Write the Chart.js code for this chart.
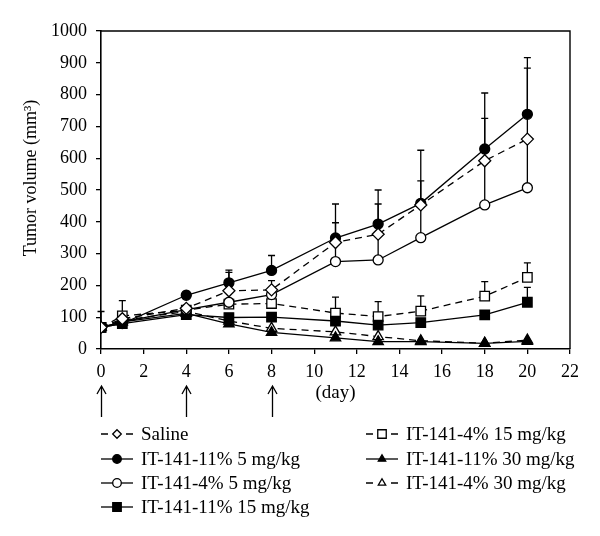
<!DOCTYPE html>
<html>
<head>
<meta charset="utf-8">
<style>
  html, body { margin: 0; padding: 0; background: #fff; }
  #wrap { width: 600px; height: 536px; }
</style>
<script src="https://cdn.jsdelivr.net/npm/chart.js@4.4.1/dist/chart.umd.min.js"></script>
</head>
<body>
<div id="wrap"><canvas id="tumorChart" width="600" height="536"></canvas></div>
<script>
// days of measurement
const days = [0, 1, 4, 6, 8, 11, 13, 15, 18, 20];
// injection days (arrows under the axis)
const doseDays = [0, 4, 8];

const labels = [
    'Saline',
    'IT-141-11% 5 mg/kg',
    'IT-141-4% 5 mg/kg',
    'IT-141-11% 15 mg/kg',
    'IT-141-4% 15 mg/kg',
    'IT-141-11% 30 mg/kg',
    'IT-141-4% 30 mg/kg'
];

// mean tumor volume (mm3)
const saline   = [68, 95, 128, 183, 186, 335, 361, 453, 592, 660];
const it11_5   = [68, 80, 169, 208, 247, 349, 393, 458, 629, 738];
const it4_5    = [68, 85, 124, 147, 171, 275, 280, 350, 453, 507];
const it11_15  = [68, 80, 108, 99, 100, 88, 75, 83, 107, 147];
const it4_15   = [68, 104, 122, 141, 143, 113, 102, 119, 166, 225];
const it11_30  = [68, 85, 112, 79, 52, 35, 23, 23, 18, 24];
const it4_30   = [68, 90, 118, 88, 65, 54, 39, 26, 18, 28];

// upper error (SD), null = no bar
const salineErr  = [null, null, null, 58, 29, 62, 95, 76, 133, 223];
const it11_5Err  = [null, null, 12, 40, 47, 107, 107, 167, 176, 178];
const it4_5Err   = [null, null, null, null, null, 60, 81, 103, 139, 153];
const it11_15Err = [null, null, null, null, null, null, null, null, null, 47];
const it4_15Err  = [50, 48, null, null, null, 50, 47, 48, 46, 46];
const it11_30Err = [null, null, null, null, null, null, null, null, null, null];
const it4_30Err  = [null, null, null, null, null, null, null, null, null, null];

const serif = '"Liberation Serif", "Times New Roman", serif';

const makeSet = (label, values, err, style, filled, dashed, radius) => ({
    label: label,
    data: days.map((d, i) => ({ x: d, y: values[i] })),
    errUp: err,
    borderColor: '#000',
    borderWidth: 1.3,
    borderDash: dashed ? [7, 5] : [],
    pointStyle: style,
    pointRadius: radius,
    pointHoverRadius: radius,
    pointBorderColor: '#000',
    pointBorderWidth: 1.3,
    pointBackgroundColor: filled ? '#000' : '#fff',
    fill: false,
    tension: 0
});

const datasets = [
    makeSet(labels[0], saline, salineErr, 'rectRot', false, true, 6),
    makeSet(labels[1], it11_5, it11_5Err, 'circle', true, false, 5),
    makeSet(labels[2], it4_5, it4_5Err, 'circle', false, false, 5),
    makeSet(labels[3], it11_15, it11_15Err, 'rect', true, false, 6.7),
    makeSet(labels[4], it4_15, it4_15Err, 'rect', false, true, 6.7),
    makeSet(labels[5], it11_30, it11_30Err, 'triangle', true, false, 6),
    makeSet(labels[6], it4_30, it4_30Err, 'triangle', false, true, 6)
];

// small marker for the legend
function legendMarker(ctx, style, x, y, r, filled) {
    ctx.beginPath();
    if (style === 'circle') {
        ctx.arc(x, y, r, 0, Math.PI * 2);
    } else if (style === 'rect') {
        const s = r * Math.SQRT1_2;
        ctx.rect(x - s, y - s, 2 * s, 2 * s);
    } else if (style === 'rectRot') {
        ctx.moveTo(x - r, y); ctx.lineTo(x, y - r); ctx.lineTo(x + r, y); ctx.lineTo(x, y + r);
        ctx.closePath();
    } else if (style === 'triangle') {
        ctx.moveTo(x, y - r);
        ctx.lineTo(x + r * Math.sin(Math.PI * 2 / 3), y - r * Math.cos(Math.PI * 2 / 3));
        ctx.lineTo(x + r * Math.sin(Math.PI * 4 / 3), y - r * Math.cos(Math.PI * 4 / 3));
        ctx.closePath();
    }
    ctx.fillStyle = filled ? '#000' : '#fff';
    ctx.fill();
    ctx.setLineDash([]);
    ctx.stroke();
}

const extras = {
    id: 'extras',
    beforeDatasetsDraw(chart) {
        const { ctx, scales: { x, y } } = chart;
        ctx.save();
        ctx.strokeStyle = '#000';
        ctx.lineWidth = 1.3;
        chart.data.datasets.forEach(ds => {
            ds.errUp.forEach((e, i) => {
                if (e == null) return;
                const px = x.getPixelForValue(ds.data[i].x);
                const y0 = y.getPixelForValue(ds.data[i].y);
                const y1 = y.getPixelForValue(ds.data[i].y + e);
                ctx.beginPath();
                ctx.moveTo(px, y0); ctx.lineTo(px, y1);
                ctx.moveTo(px - 3.5, y1); ctx.lineTo(px + 3.5, y1);
                ctx.stroke();
            });
        });
        ctx.restore();
    },
    afterDraw(chart) {
        const { ctx, chartArea: a, scales: { x } } = chart;
        ctx.save();
        ctx.strokeStyle = '#000';
        ctx.fillStyle = '#000';

        // box on top and right
        ctx.lineWidth = 1.4;
        ctx.beginPath();
        ctx.moveTo(a.left, a.top); ctx.lineTo(a.right, a.top); ctx.lineTo(a.right, a.bottom);
        ctx.stroke();

        // dosing arrows
        ctx.lineWidth = 1.3;
        doseDays.forEach(d => {
            const px = Math.round(x.getPixelForValue(d)) + 0.5;
            ctx.beginPath();
            ctx.moveTo(px, 417); ctx.lineTo(px, 386);
            ctx.moveTo(px - 4.5, 394); ctx.lineTo(px, 386); ctx.lineTo(px + 4.5, 394);
            ctx.stroke();
        });

        // y title
        ctx.save();
        ctx.translate(31, 178);
        ctx.rotate(-Math.PI / 2);
        ctx.font = '18px ' + serif;
        ctx.textAlign = 'center';
        ctx.textBaseline = 'middle';
        ctx.fillText('Tumor volume (mm³)', 0, 0);
        ctx.restore();

        // legend, two columns
        const cols = [{ x: 101, n: 4 }, { x: 366, n: 3 }];
        const rowY = [434, 459, 483, 507];
        ctx.font = '19px ' + serif;
        ctx.textBaseline = 'middle';
        ctx.textAlign = 'left';
        let k = 0;
        cols.forEach(c => {
            for (let r = 0; r < c.n; r++, k++) {
                const ds = chart.data.datasets[k];
                const yy = rowY[r];
                const dashed = ds.borderDash.length > 0;
                ctx.lineWidth = 1.3;
                ctx.beginPath();
                if (dashed) {
                    ctx.moveTo(c.x, yy); ctx.lineTo(c.x + 7, yy);
                    ctx.moveTo(c.x + 25, yy); ctx.lineTo(c.x + 32, yy);
                } else {
                    ctx.moveTo(c.x, yy); ctx.lineTo(c.x + 32, yy);
                }
                ctx.stroke();
                const filled = ds.pointBackgroundColor === '#000';
                legendMarker(ctx, ds.pointStyle, c.x + 16, yy, ds.pointStyle === 'rect' ? 6 : 4.3, filled);
                ctx.fillStyle = '#000';
                ctx.fillText(ds.label, c.x + 40, yy + 1);
            }
        });
        ctx.restore();
    }
};

new Chart(document.getElementById('tumorChart'), {
    type: 'line',
    data: { datasets: datasets },
    options: {
        responsive: false,
        animation: false,
        devicePixelRatio: 1,
        layout: { padding: { top: 31, right: 30, left: 0, bottom: 0 } },
        plugins: { legend: { display: false }, tooltip: { enabled: false } },
        scales: {
            x: {
                type: 'linear',
                min: 0,
                max: 22,
                afterFit: s => { s.height = 187; },
                ticks: { stepSize: 2, color: '#000', padding: 7, font: { family: serif, size: 18 } },
                grid: { drawOnChartArea: false, drawTicks: true, tickLength: 5, color: '#000', lineWidth: 1.3 },
                border: { display: true, color: '#000', width: 1.6 },
                title: {
                    display: true,
                    text: '(day)',
                    color: '#000',
                    font: { family: serif, size: 19 },
                    padding: { top: 0, bottom: 132 }
                }
            },
            y: {
                min: 0,
                max: 1000,
                afterFit: s => { s.width = 101; },
                ticks: { stepSize: 100, color: '#000', padding: 9, font: { family: serif, size: 18 }, callback: v => String(v) },
                grid: { drawOnChartArea: false, drawTicks: true, tickLength: 5, color: '#000', lineWidth: 1.3 },
                border: { display: true, color: '#000', width: 1.6 }
            }
        }
    },
    plugins: [extras]
});
</script>
</body>
</html>
